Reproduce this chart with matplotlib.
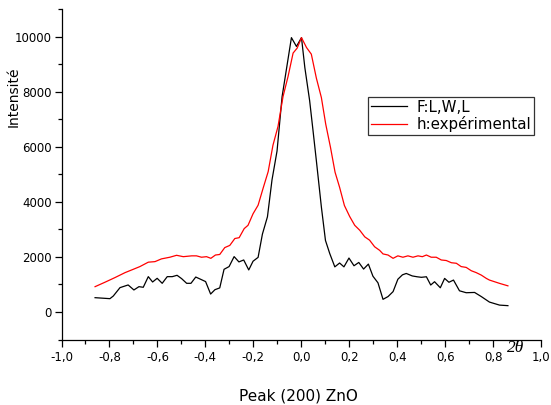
import matplotlib
matplotlib.use("Agg")
import matplotlib.pyplot as plt
from matplotlib.ticker import MultipleLocator, FixedLocator, FuncFormatter

# F:L,W,L (black)
black_x = [-0.860, -0.798, -0.784, -0.756, -0.722, -0.698, -0.677, -0.659, -0.638, -0.620,
           -0.601, -0.580, -0.559, -0.538, -0.518, -0.499, -0.478, -0.460, -0.440, -0.420,
           -0.399, -0.378, -0.360, -0.340, -0.322, -0.301, -0.280, -0.260, -0.240, -0.219,
           -0.201, -0.180, -0.162, -0.141, -0.122, -0.101, -0.080, -0.041, -0.020, 0.001,
           0.015, 0.035, 0.049, 0.063, 0.084, 0.101, 0.119, 0.140, 0.160, 0.178,
           0.199, 0.220, 0.240, 0.260, 0.280, 0.299, 0.320, 0.341, 0.362, 0.383,
           0.403, 0.422, 0.438, 0.463, 0.483, 0.501, 0.522, 0.540, 0.556, 0.580,
           0.598, 0.616, 0.635, 0.660, 0.688, 0.723, 0.751, 0.785, 0.827, 0.862]
black_y = [520, 484, 580, 885, 982, 800, 920, 898, 1284, 1090,
           1224, 1042, 1284, 1284, 1333, 1212, 1042, 1042, 1270, 1190,
           1105, 652, 810, 875, 1551, 1650, 2012, 1820, 1890, 1528,
           1845, 1985, 2830, 3460, 4800, 5850, 7820, 9970, 9650, 9970,
           8880, 7680, 6600, 5500, 3810, 2600, 2120, 1640, 1780, 1640,
           1960, 1680, 1800, 1560, 1740, 1300, 1060, 460, 560, 740,
           1190, 1350, 1400, 1310, 1280, 1260, 1280, 980, 1100, 880,
           1220, 1080, 1160, 770, 700, 710, 560, 360, 250, 230]

# h:expérimental (red)
red_x = [-0.860, -0.819, -0.777, -0.735, -0.701, -0.673, -0.638, -0.610, -0.583, -0.548,
         -0.520, -0.492, -0.457, -0.437, -0.416, -0.395, -0.377, -0.358, -0.340, -0.319,
         -0.298, -0.277, -0.259, -0.238, -0.222, -0.201, -0.180, -0.159, -0.138, -0.118,
         -0.097, -0.076, -0.055, -0.034, -0.017, 0.001, 0.022, 0.042, 0.063, 0.084,
         0.102, 0.122, 0.141, 0.160, 0.180, 0.202, 0.223, 0.244, 0.265, 0.285,
         0.306, 0.327, 0.341, 0.362, 0.383, 0.403, 0.424, 0.445, 0.466, 0.487,
         0.505, 0.522, 0.542, 0.563, 0.584, 0.605, 0.626, 0.647, 0.667, 0.688,
         0.709, 0.730, 0.751, 0.772, 0.785, 0.827, 0.862]
red_y = [920, 1080, 1250, 1430, 1550, 1650, 1810, 1830, 1930, 1990,
         2060, 2010, 2040, 2040, 1990, 2010, 1950, 2070, 2090, 2340,
         2420, 2670, 2700, 3030, 3150, 3570, 3880, 4500, 5100, 6060,
         6740, 7830, 8560, 9410, 9590, 9970, 9610, 9370, 8500, 7790,
         6830, 5980, 5080, 4530, 3870, 3470, 3150, 2970, 2730, 2610,
         2370, 2240, 2110, 2070, 1950, 2040, 1990, 2040, 1990, 2040,
         2010, 2070, 1990, 1990, 1890, 1870, 1790, 1770, 1650, 1620,
         1500, 1430, 1340, 1220, 1160, 1040, 950]

x_ticks = [-1.0, -0.8, -0.6, -0.4, -0.2, 0.0, 0.2, 0.4, 0.6, 0.8, 1.0]
y_ticks = [0, 2000, 4000, 6000, 8000, 10000]

fig = plt.figure(figsize=(5.51, 4.05), dpi=100)
ax = fig.add_axes([61.5 / 551, 1 - 339.5 / 405, (541 - 61.5) / 551, (339.5 - 9.3) / 405])

ax.plot(black_x, black_y, color="black", lw=0.9, label="F:L,W,L")
ax.plot(red_x, red_y, color="#ff0000", lw=0.9, label="h:expérimental")

ax.set_xlim(-1.0, 1.0)
ax.set_ylim(-1000, 11000)
ax.spines["top"].set_visible(False)
ax.spines["right"].set_visible(False)
for s in ("left", "bottom"):
    ax.spines[s].set_linewidth(0.9)

ax.xaxis.set_major_locator(FixedLocator(x_ticks))
ax.xaxis.set_minor_locator(MultipleLocator(0.1))
ax.yaxis.set_major_locator(FixedLocator(y_ticks))
ax.yaxis.set_minor_locator(FixedLocator([-1000, 1000, 3000, 5000, 7000, 9000, 11000]))

def xfmt(v, pos):
    return ("%.1f" % v).replace(".", ",").replace("-0,0", "0,0")

ax.xaxis.set_major_formatter(FuncFormatter(xfmt))
ax.yaxis.set_major_formatter(FuncFormatter(lambda v, p: "%d" % v))
ax.tick_params(axis="both", which="major", direction="out", length=5, width=0.9, labelsize=8.5)
ax.tick_params(axis="both", which="minor", direction="out", length=3, width=0.9)
ax.tick_params(axis="x", pad=3)
ax.tick_params(axis="y", pad=2)

leg = ax.legend(loc="upper left", bbox_to_anchor=((368.3 - 61.5) / 479.5, 1 - (96.7 - 9.3) / 330.2),
                fontsize=10.8, frameon=True, fancybox=False, handlelength=2.4,
                borderpad=0.2, labelspacing=0.1, handletextpad=0.6, borderaxespad=0)
leg.get_frame().set_edgecolor("black")
leg.get_frame().set_linewidth(0.9)

fig.text(14 / 551, 1 - 97 / 405, "Intensité", rotation=90, ha="center", va="center", fontsize=10)
fig.text(298 / 551, 1 - 396 / 405, "Peak (200) ZnO", ha="center", va="center", fontsize=11)
fig.text(516 / 551, 1 - 348 / 405, "2θ", ha="center", va="center", fontsize=12.5,
         family="Liberation Serif", style="italic")

fig.savefig("out.png", dpi=100)
